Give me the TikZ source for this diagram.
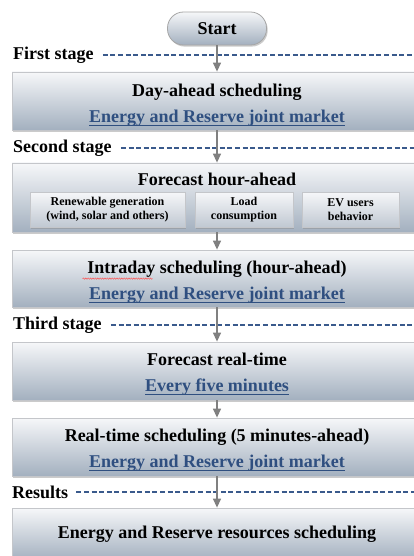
\documentclass[tikz,border=0pt]{standalone}
\usepackage{fontspec}
\setmainfont{Liberation Serif}
\usetikzlibrary{arrows.meta,shadows,decorations.pathmorphing}
\definecolor{dblue}{RGB}{47,79,128}
\definecolor{dashc}{RGB}{58,90,140}
\definecolor{arrc}{RGB}{128,128,128}
\definecolor{btop}{RGB}{246,247,249}
\definecolor{bbot}{RGB}{163,176,191}
\definecolor{ibot}{RGB}{192,200,210}
\definecolor{bedge}{RGB}{196,198,202}
\newcommand\bul[1]{\setbox0\hbox{#1}\rlap{\vrule width \wd0 height -2.4pt depth 3.6pt}\box0}
\newcommand\upstrut[1]{\rule{0pt}{#1}}
\tikzset{
  bigbox/.style={draw=bedge, line width=0.8pt, top color=btop, bottom color=bbot,
    minimum width=410pt, inner sep=0pt, align=center,
    drop shadow={shadow xshift=1.2pt, shadow yshift=-2pt, fill=black!45, opacity=0.45},
    font=\bfseries\fontsize{18}{26}\selectfont},
  smallbox/.style={draw=bedge, line width=0.8pt, top color=btop, bottom color=ibot,
    minimum height=35pt, inner sep=0pt, align=center,
    drop shadow={shadow xshift=1.2pt, shadow yshift=-1.6pt, fill=black!45, opacity=0.45},
    font=\bfseries\fontsize{12}{14}\selectfont},
  startbox/.style={draw=black!35, line width=0.8pt, top color=btop, bottom color=bbot,
    minimum width=99pt, minimum height=33pt, rounded corners=16pt, inner sep=0pt,
    drop shadow={shadow xshift=1.2pt, shadow yshift=-1.6pt, fill=black!45, opacity=0.45},
    font=\bfseries\fontsize{18}{22}\selectfont},
  stagelbl/.style={inner sep=0pt, anchor=west, font=\bfseries\fontsize{18}{22}\selectfont},
  dashln/.style={draw=dashc, line width=1.6pt, dash pattern=on 5pt off 2.6pt},
  arrowln/.style={draw=arrc, line width=1.3pt, -{Triangle[width=8pt,length=9pt]}, color=arrc},
  ttl/.style={inner sep=0pt, font=\bfseries\fontsize{18}{22}\selectfont}
}
\begin{document}
\begin{tikzpicture}[x=1pt,y=-1pt]
\useasboundingbox (0,0) rectangle (414,556);
\clip (0,0) rectangle (414,556);
\coordinate (R) at (414,0);
% boxes
\node[startbox] (st) at (217,28.5) {Start};
\node[bigbox, minimum height=58pt] (b1) at (217,101) {\upstrut{21pt}Day-ahead scheduling\\{\color{dblue}\bul{Energy and Reserve joint market}}};
\node[bigbox, minimum height=69pt] (b2) at (217,197.5) {};
\node[ttl] (t2) at ([yshift=-17pt]b2.north) {Forecast hour-ahead};
\node[smallbox, minimum width=155pt] (s1) at (107.5,209.5) {Renewable generation\\(wind, solar and others)};
\node[smallbox, minimum width=98pt] (s2) at (244,209.5) {Load\\consumption};
\node[smallbox, minimum width=97pt] (s3) at (350.5,209.5) {EV users\\behavior};
\node[bigbox, minimum height=57pt] (b3) at (217,278.5) {\upstrut{20pt}Intraday scheduling (hour-ahead)\\{\color{dblue}\bul{Energy and Reserve joint market}}};
\node[bigbox, minimum height=58pt] (b4) at (217,371) {\upstrut{18.5pt}Forecast real-time\\{\color{dblue}\bul{Every five minutes}}};
\node[bigbox, minimum height=58pt] (b5) at (217,447) {\upstrut{18.5pt}Real-time scheduling (5 minutes-ahead)\\{\color{dblue}\bul{Energy and Reserve joint market}}};
\node[bigbox, minimum height=52pt] (b6) at (217,534) {Energy and Reserve resources scheduling};
% spell-check squiggle under "Intraday"
\draw[red!70, line width=0.45pt, decorate, decoration={snake, amplitude=0.7pt, segment length=2.4pt}]
  ([xshift=71pt,yshift=-29pt]b3.north west) -- ++(70,0);
% stage labels and dashed lines
\node[stagelbl] (l1) at (13,55) {First stage};
\node[stagelbl] (l2) at (13,148) {Second stage};
\node[stagelbl] (l3) at (13,325) {Third stage};
\node[stagelbl] (l4) at (12,492) {Results};
\draw[dashln] ([xshift=9pt]l1.east) -- (l1.east -| R);
\draw[dashln] ([xshift=9pt]l2.east) -- (l2.east -| R);
\draw[dashln] ([xshift=9pt]l3.east) -- (l3.east -| R);
\draw[dashln] ([xshift=8pt]l4.east) -- (l4.east -| R);
% arrows
\draw[arrowln] (st.south) -- (b1.north);
\draw[arrowln] (b1.south) -- (b2.north);
\draw[arrowln] (b2.south) -- (b3.north);
\draw[arrowln] (b3.south) -- (b4.north);
\draw[arrowln] (b4.south) -- (b5.north);
\draw[arrowln] (b5.south) -- (b6.north);
\end{tikzpicture}
\end{document}
